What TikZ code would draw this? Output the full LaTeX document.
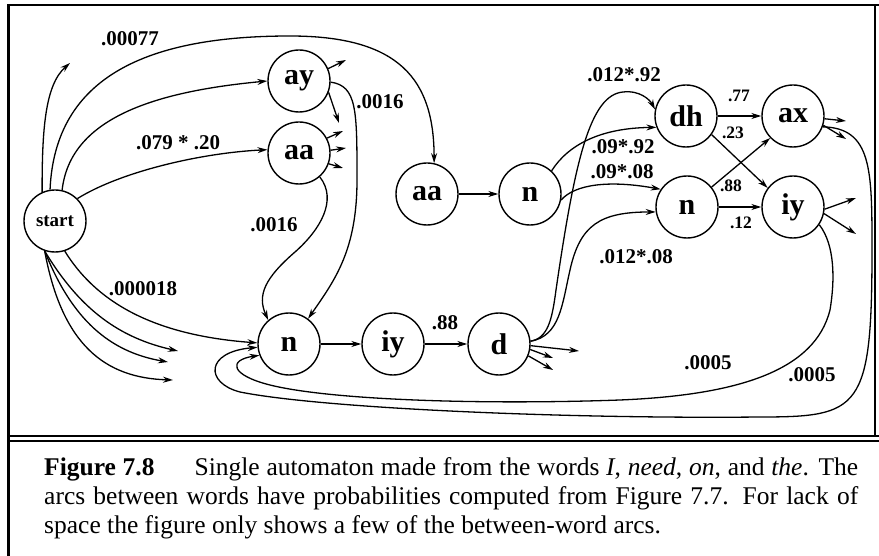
\documentclass[tikz,border=0pt]{standalone}
\usepackage{fontspec}
\setmainfont{Liberation Serif}
\usetikzlibrary{arrows.meta}
\begin{document}
\begin{tikzpicture}[x=1pt,y=-1pt,
  stnode/.style={circle, draw, line width=1.4pt, minimum size=62pt, inner sep=0pt, font=\fontsize{30}{30}\selectfont\bfseries},
  startst/.style={stnode, font=\fontsize{19}{19}\selectfont\bfseries},
  lab/.style={inner sep=0pt, font=\fontsize{21}{21}\selectfont\bfseries},
  slab/.style={inner sep=0pt, font=\fontsize{17.5}{17.5}\selectfont\bfseries},
  arr/.style={line width=1.3pt, -{Stealth[length=10pt,width=6pt]}},
  frameline/.style={line width=2.6pt},
  captext/.style={inner sep=0pt, anchor=base west, font=\fontsize{25.5}{25.5}\selectfont}]
\useasboundingbox (0,0) rectangle (879,556);
% frame
\draw[frameline] (8.5,556) -- (8.5,5) -- (879,5);
\draw[frameline] (875,5) -- (875,436);
\draw[frameline] (8.5,436) -- (879,436);
\draw[frameline] (8.5,441) -- (879,441);
% nodes
\node[startst] (start) at (55,221) {start};
\node[stnode] (ay) at (299,81) {ay};
\node[stnode] (aa) at (299,153) {aa};
\node[stnode] (aa2) at (427,194) {aa};
\node[stnode] (n2) at (530,194) {n};
\node[stnode] (dh) at (686,116) {dh};
\node[stnode] (ax) at (793,116) {ax};
\node[stnode] (n3) at (687,207) {n};
\node[stnode] (iy2) at (793,207) {iy};
\node[stnode] (n) at (289,344) {n};
\node[stnode] (iy) at (393,344) {iy};
\node[stnode] (d) at (499,344) {d};
% free ends
\coordinate (su) at (70,63);
\coordinate (sa) at (178,351);
\coordinate (sb) at (168,362);
\coordinate (sc) at (173,380);
\coordinate (ayu) at (346,60);
\coordinate (ayd) at (339,123);
\coordinate (aaa) at (343,131);
\coordinate (aab) at (346,148);
\coordinate (aac) at (343,168);
\coordinate (da) at (579,351);
\coordinate (db) at (553,358);
\coordinate (dc) at (553,370);
\coordinate (axa) at (846,121);
\coordinate (axb) at (846,139);
\coordinate (iya) at (856,198);
\coordinate (iyb) at (856,234);
% start edges
\draw[arr] (start.114) .. controls (42,130) and (45,85) .. (su);
\draw[arr] (start.99) .. controls (55,75) and (150,36) .. (290,36) .. controls (400,36) and (434,80) .. (aa2.77);
\draw[arr] (start.77) .. controls (70,120) and (150,92) .. (ay.180);
\draw[arr] (start.45) .. controls (120,172) and (200,153) .. (aa.174);
\draw[arr] (start.-72) .. controls (95,300) and (150,335) .. (n.178);
\draw[arr] (start.-109) .. controls (80,310) and (120,338) .. (sa);
\draw[arr] (start.-109) .. controls (72,320) and (110,352) .. (sb);
\draw[arr] (start.-109) .. controls (62,345) and (105,378) .. (sc);
% ay, aa
\draw[arr] (ay.23) -- (ayu);
\draw[arr] (ay.-21) -- (ayd);
\draw[arr] (ay.-2) .. controls (357,86) and (357,110) .. (357,180) .. controls (357,250) and (335,280) .. (n.53);
\draw[arr] (aa.28) -- (aaa);
\draw[arr] (aa.5) -- (aab);
\draw[arr] (aa.-20) -- (aac);
\draw[arr] (aa.-49) .. controls (338,200) and (320,230) .. (295,252) .. controls (265,278) and (257,295) .. (n.131);
% need
\draw[arr] (n) -- (iy);
\draw[arr] (iy) -- (d);
\draw[arr] (d.-3) -- (da);
\draw[arr] (d.-10) -- (db);
\draw[arr] (d.-22) -- (dc);
\draw[arr] (d.5) .. controls (548,338) and (552,320) .. (556,290) .. controls (575,160) and (590,95) .. (623,92) .. controls (640,90) and (650,100) .. (dh.168);
\draw[arr] (d.5) .. controls (560,336) and (562,305) .. (570,270) .. controls (580,225) and (600,212) .. (n3.189);
% on
\draw[arr] (aa2) -- (n2);
\draw[arr] (n2.47) .. controls (568,145) and (600,128) .. (dh.201);
\draw[arr] (n2.-11) .. controls (575,184) and (610,180) .. (n3.146);
% the
\draw[arr] (dh) -- (ax);
\draw[arr] (dh.-36) -- (iy2.143);
\draw[arr] (n3.39) -- (ax.224);
\draw[arr] (n3) -- (iy2);
\draw[arr] (ax.-5) -- (axa);
\draw[arr] (ax.-17) -- (axb);
\draw[arr] (iy2.-4) -- (iya);
\draw[arr] (iy2.-12) -- (iyb);
\draw[arr] (ax.-20) .. controls (872,128) and (872,170) .. (872,250) .. controls (872,410) and (860,417) .. (760,417) .. controls (560,419) and (320,408) .. (240,392) .. controls (205,383) and (205,352) .. (n.186);
\draw[arr] (iy2.-34) .. controls (835,245) and (835,280) .. (830,310) .. controls (815,370) and (740,395) .. (620,400) .. controls (480,405) and (330,400) .. (270,385) .. controls (230,375) and (228,360) .. (n.201);
% labels
\node[lab] (l1) at (130,39) {.00077};
\node[lab] (l2) at (178,143) {.079 * .20};
\node[lab] (l3) at (380,102) {.0016};
\node[lab] (l4) at (274,225) {.0016};
\node[lab] (l5) at (143,289) {.000018};
\node[lab] (l6) at (624,75) {.012*.92};
\node[lab] (l7) at (623,147) {.09*.92};
\node[lab] (l8) at (622,172) {.09*.08};
\node[lab] (l9) at (636,257) {.012*.08};
\node[slab] (l10) at (739,96) {.77};
\node[slab] (l11) at (733,133) {.23};
\node[slab] (l12) at (731,186) {.88};
\node[slab] (l13) at (741,223) {.12};
\node[lab] (l14) at (445,323) {.88};
\node[lab] (l15) at (708,363) {.0005};
\node[lab] (l16) at (812,375) {.0005};
% caption
\node[captext] (c1) at (44,475) {\makebox[814pt][s]{\textbf{Figure 7.8}\hspace{40pt}Single automaton made from the words \textit{I}, \textit{need}, \textit{on}, and \textit{the}. The}};
\node[captext] (c2) at (44,504) {\makebox[814pt][s]{arcs between words have probabilities computed from Figure 7.7. For lack of}};
\node[captext] (c3) at (44,533) {space the figure only shows a few of the between-word arcs.};
\end{tikzpicture}
\end{document}
